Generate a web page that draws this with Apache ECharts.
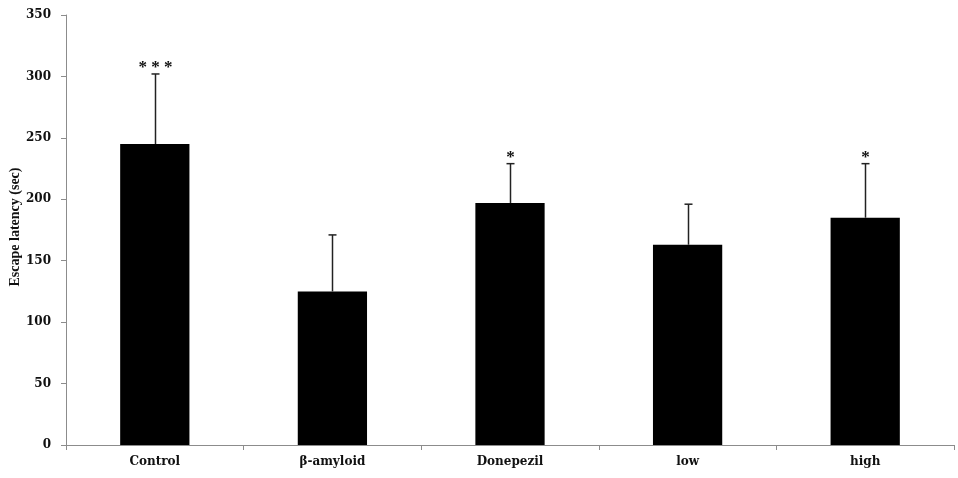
<!DOCTYPE html>
<html>
<head>
<meta charset="utf-8">
<script src="https://cdn.jsdelivr.net/npm/echarts@6/dist/echarts.min.js"></script>
<style>html,body{margin:0;padding:0;background:#fff;}#c{width:958px;height:478px;}</style>
</head>
<body>
<div id="c"></div>
<script>
const categories = ['Control', 'β-amyloid', 'Donepezil', 'low', 'high'];
const means = [245, 125, 197, 163, 185];
const errTops = [302, 171, 229, 196, 229];
const marks = ['* * *', '', '*', '', '*'];
const yTicks = [0, 50, 100, 150, 200, 250, 300, 350];
const yTitle = 'Escape latency (sec)';

const chart = echarts.init(document.getElementById('c'));
const serif = '"Liberation Serif", "Times New Roman", serif';
const wideSerif = '"DejaVu Serif", serif';
chart.setOption({
  animation: false,
  grid: { left: 66, right: 4, top: 15, bottom: 33, containLabel: false, outerBoundsMode: 'none' },
  graphic: [{
    type: 'text',
    x: 15, y: 227,
    rotation: Math.PI / 2,
    style: { text: yTitle, align: 'center', verticalAlign: 'middle', fill: '#111',
      font: 'bold 14px ' + serif }
  }],
  xAxis: {
    type: 'category',
    data: categories,
    axisLine: { lineStyle: { color: '#8c8c8c', width: 1 } },
    axisTick: { show: true, length: 5, lineStyle: { color: '#8c8c8c' } },
    axisLabel: { color: '#111', fontFamily: wideSerif, fontWeight: 'bold', fontSize: 12, margin: 11 }
  },
  yAxis: {
    type: 'value',
    min: yTicks[0], max: yTicks[yTicks.length - 1], interval: 50,
    axisLine: { show: true, lineStyle: { color: '#8c8c8c', width: 1 } },
    axisTick: { show: true, length: 5, lineStyle: { color: '#8c8c8c' } },
    axisLabel: { color: '#111', fontFamily: wideSerif, fontWeight: 'bold', fontSize: 12, margin: 15 },
    splitLine: { show: false }
  },
  series: [
    {
      type: 'bar',
      data: means,
      barWidth: '39%',
      itemStyle: { color: '#000' }
    },
    {
      type: 'custom',
      data: categories.map((c, i) => [i, means[i], errTops[i]]),
      renderItem: function (params, api) {
        const i = api.value(0);
        const base = api.coord([i, api.value(1)]);
        const top = api.coord([i, api.value(2)]);
        const x = Math.round(base[0]) + 0.5;
        const children = [
          { type: 'line', shape: { x1: x, y1: base[1], x2: x, y2: top[1] }, style: { stroke: '#222', lineWidth: 1.5 } },
          { type: 'line', shape: { x1: x - 4, y1: top[1], x2: x + 4, y2: top[1] }, style: { stroke: '#222', lineWidth: 1.5 } }
        ];
        const m = marks[i];
        if (m) {
          children.push({
            type: 'text',
            style: { text: m, x: x, y: top[1] + 2, align: 'center', verticalAlign: 'bottom',
              fill: '#111', font: 'bold 17px ' + serif }
          });
        }
        return { type: 'group', children: children };
      },
      z: 5
    }
  ]
});
</script>
</body>
</html>
